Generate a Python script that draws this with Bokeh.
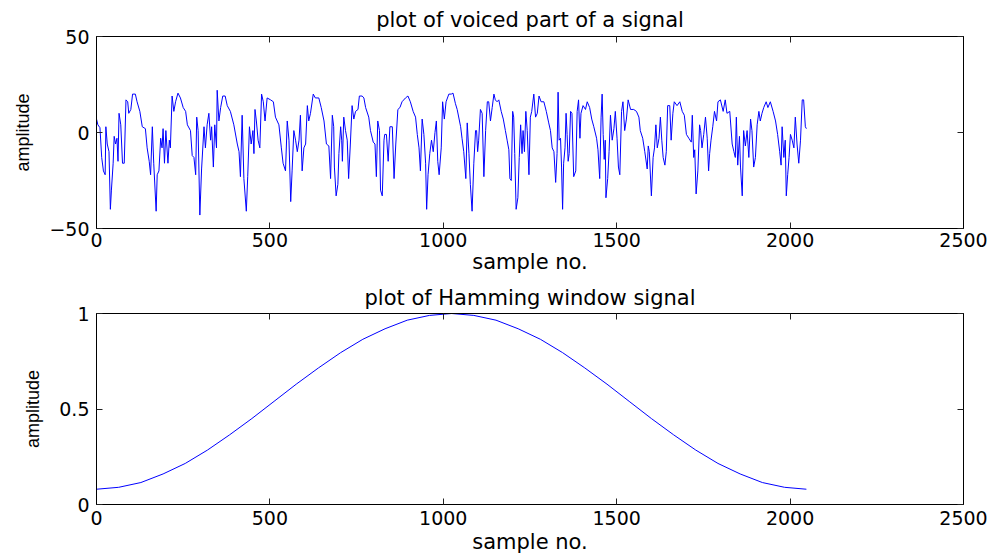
from bokeh.plotting import figure
from bokeh.layouts import column
from bokeh.models import Range1d, FixedTicker, NumeralTickFormatter, LinearAxis
from bokeh.embed import file_html
from bokeh.resources import INLINE

# ---------------- data ----------------
voiced_sample_no = [
    0, 4, 10, 15, 20, 25, 27, 31, 36, 40, 43, 48, 51, 55, 59, 62, 65, 70, 75, 80,
    85, 90, 93, 99, 104, 112, 117, 125, 132, 141, 146, 152, 156, 161, 165, 172, 175, 180, 185, 189,
    192, 196, 200, 206, 210, 213, 218, 223, 228, 235, 242, 250, 257, 262, 271, 276, 281, 286, 289, 293,
    298, 303, 310, 314, 319, 324, 329, 332, 337, 341, 346, 348, 353, 358, 364, 371, 377, 386, 396, 406,
    411, 415, 420, 425, 432, 436, 441, 446, 451, 454, 457, 461, 466, 471, 476, 481, 486, 492, 502, 510,
    516, 526, 533, 538, 545, 550, 555, 560, 564, 569, 574, 579, 584, 588, 593, 598, 603, 608, 612, 617,
    625, 631, 641, 648, 656, 663, 670, 675, 680, 684, 686, 691, 696, 699, 704, 707, 709, 713, 718, 723,
    727, 732, 737, 742, 747, 754, 758, 766, 771, 776, 785, 790, 798, 803, 807, 811, 816, 819, 824, 829,
    831, 836, 841, 846, 853, 858, 863, 869, 875, 881, 891, 898, 905, 913, 920, 925, 930, 934, 939, 944,
    949, 952, 956, 961, 966, 971, 976, 980, 984, 988, 994, 998, 1003, 1008, 1016, 1023, 1028, 1035, 1040, 1050,
    1054, 1059, 1065, 1069, 1074, 1078, 1083, 1088, 1093, 1096, 1099, 1102, 1107, 1112, 1117, 1122, 1127, 1131, 1136, 1141,
    1146, 1150, 1155, 1160, 1167, 1173, 1179, 1184, 1189, 1192, 1196, 1200, 1203, 1206, 1210, 1215, 1219, 1223, 1227, 1230,
    1234, 1238, 1242, 1247, 1251, 1255, 1261, 1266, 1271, 1276, 1282, 1290, 1297, 1304, 1309, 1314, 1319, 1324, 1328, 1331,
    1334, 1338, 1341, 1344, 1347, 1351, 1354, 1357, 1360, 1363, 1367, 1371, 1376, 1382, 1386, 1390, 1394, 1397, 1403, 1410,
    1415, 1422, 1428, 1434, 1442, 1446, 1451, 1455, 1458, 1461, 1464, 1467, 1469, 1474, 1478, 1482, 1487, 1492, 1496, 1501,
    1505, 1509, 1514, 1518, 1523, 1528, 1533, 1540, 1549, 1557, 1564, 1568, 1575, 1581, 1588, 1591, 1594, 1600, 1605, 1609,
    1613, 1617, 1622, 1626, 1630, 1634, 1639, 1643, 1647, 1653, 1657, 1662, 1666, 1674, 1682, 1689, 1695, 1701, 1708, 1715,
    1718, 1722, 1725, 1729, 1734, 1739, 1742, 1746, 1751, 1756, 1761, 1765, 1768, 1772, 1777, 1782, 1788, 1792, 1799, 1807,
    1813, 1818, 1826, 1833, 1838, 1842, 1845, 1849, 1854, 1857, 1862, 1866, 1871, 1876, 1881, 1886, 1890, 1895, 1900, 1905,
    1910, 1914, 1919, 1924, 1931, 1936, 1943, 1951, 1958, 1964, 1970, 1974, 1977, 1982, 1986, 1989, 1993, 1997, 2001, 2006,
    2011, 2015, 2020, 2025, 2030, 2035, 2039, 2044, 2047,
]
voiced_amplitude = [
    7, 4, 2.5, -13, -20, -22, 3, -6, -10, -40, -30, -16, -2, -6, -3, -15, 10, 4, -16, -16,
    17, 16, 10, 12, 20, 20, 16, 11, 3, 2, -8, -15, -22, 3, -16, -41, -22, -20, -3, -8,
    2, -16, 1, -16, -4, -8, 19, 11, 16, 20.5, 18, 13, 11, 4, 1, -12, -13, -22, 8, 1,
    -43, -19, 3, -8, 4, 10, -4, 3, -18, 4, -8, 22, 6, 13, 19, 19, 14, 11, 4, -6,
    -10, -23, 9, -24, -41, -23, 3, -6, 1, -11, 12, 6, -4, -8, 20, 16, 6, 18, 17, 16,
    8, 4, -8, -16, -20, 6, -4, -36, -20, 1, -4, -10, -4, 9, -20, -8, -6, 14, 6, 10,
    20, 18, 18, 13, 6, -6, -7, -24, 9, 3, -18, -33, -27, -11, 3, -4, -15, 8, 1, -4,
    -24, -6, 14, 7, 11, 12, 19, 19, 18, 13, 8, 1, -5, -6, -23, 6, 1, -30, -33, -4,
    -1, -1, -15, 3, 3, -24, -6, 12, 13, 16, 18, 19, 16, 11, 8, -1, -8, -20, 7, -1,
    -16, -40, -22, -11, -4, -10, 0, 6, -15, -22, -8, 16, 7, 16, 20, 20, 20.5, 15, 12, 3,
    -3, -10, -24, 5, -11, -27, -41, -16, 1, 1, -10, -4, 12, 10, -23, 1, 16, 16, 6, 13,
    20, 17, 16, 17, 11, 7, 1, -4, -9, -24, -25, 11, 8, -11, -40, -34, -13, 4, -11, 1,
    -10, 11, 1, -22, 8, 11, 20, 8, 10, 19, 16, 16, 11, 5, 1, -8, -10, -26, -11, 21,
    -4, -3, -18, -40, -16, -8, 10, -1, -15, -11, 11, 10, -23, -20, 11, 17, -3, 10, 14, 12,
    16, 13, 7, 3, -3, -9, -24, 8, 20, -1, -14, -4, -34, -24, -10, 9, -4, 2, 11, -3,
    -18, -22, 11, 16, 1, 7, 17, 12, 12, 11, 8, 1, -3, -10, -19, -7, -10, -33, -13, -8,
    4, -8, -3, 8, -4, -13, -17, -10, 14, 14, -4, 10, 16, 14, 16, 11, 9, -1, -3, -5,
    9, -13, -9, -32, -20, 4, 1, -8, -1, 8, -3, -20, -11, -4, 3, 11, 6, 16, 17, 11,
    17, 10, 11, -6, -10, -13, 8, -17, -2, -18, -33, 1, -7, 1, -13, 7, 1, -18, -13, 4,
    11, 6, 10, 13, 16, 13, 16, 11, 6, -1, -10, -17, 3, -13, -4, -33, -22, -13, -1, -4,
    -8, 8, -6, -16, -4, 17, 17, 3, 2,
]

hamming_sample_no = [
    0, 64, 128, 192, 256, 320, 384, 448, 512, 576, 640, 704, 768, 832, 896, 960, 1024,
    1088, 1152, 1216, 1280, 1344, 1408, 1472, 1536, 1600, 1664, 1728, 1792, 1856, 1920, 1984, 2047,
]
hamming_amplitude = [
    0.08, 0.09, 0.115, 0.16, 0.215, 0.285, 0.365, 0.45, 0.54, 0.63, 0.715, 0.795, 0.865, 0.92, 0.965, 0.99, 1.0,
    0.99, 0.965, 0.92, 0.865, 0.795, 0.715, 0.63, 0.54, 0.45, 0.365, 0.285, 0.215, 0.16, 0.115, 0.09, 0.08,
]

x_ticks = [0, 500, 1000, 1500, 2000, 2500]
voiced_y_ticks = [-50, 0, 50]
hamming_y_ticks = [0, 0.5, 1]

titles = ["plot of voiced part of a signal", "plot of Hamming window signal"]
x_label = "sample no."
y_label = "amplitude"

TICK_FONT = "DejaVu Sans"
TEXT_FONT = "DejaVu Sans"
TICK_COLOR = "#222222"
TICK_LEN = 6


def style_axis(ax, show_labels=True):
    ax.major_tick_in = TICK_LEN
    ax.major_tick_out = 0
    ax.minor_tick_line_color = None
    ax.major_tick_line_color = TICK_COLOR
    ax.axis_line_color = "black"
    ax.axis_line_width = 1
    if show_labels:
        ax.major_label_text_font = TICK_FONT
        ax.major_label_text_font_size = "19px"
        ax.major_label_text_color = "black"
    else:
        ax.major_label_text_font_size = "0px"
        ax.major_label_standoff = 0


def make_fig(height, top, bottom, yr, yticks, title, title_standoff,
             tick_standoff, label_standoff, fmt=None):
    xr = Range1d(0, 2500)
    p = figure(width=995, height=height, x_range=xr, y_range=Range1d(*yr),
               output_backend="svg", toolbar_location=None,
               min_border_left=96, min_border_right=32,
               min_border_top=top, min_border_bottom=bottom, title=title)
    p.background_fill_color = "white"
    p.border_fill_color = "white"
    p.outline_line_color = "black"
    p.outline_line_width = 1
    p.grid.visible = False

    p.title.text_font = TEXT_FONT
    p.title.text_font_size = "21px"
    p.title.text_font_style = "normal"
    p.title.text_color = "black"
    p.title.align = "center"
    p.title.standoff = title_standoff
    p.title.offset = -8

    xa = p.xaxis[0]
    xa.ticker = FixedTicker(ticks=x_ticks)
    style_axis(xa)
    xa.major_label_standoff = tick_standoff
    xa.axis_label = x_label
    xa.axis_label_text_font = TEXT_FONT
    xa.axis_label_text_font_size = "21px"
    xa.axis_label_text_font_style = "normal"
    xa.axis_label_text_color = "black"
    xa.axis_label_standoff = label_standoff

    ya = p.yaxis[0]
    ya.ticker = FixedTicker(ticks=yticks)
    if fmt is not None:
        ya.formatter = fmt
    style_axis(ya)
    ya.major_label_standoff = 7
    ya.axis_label = y_label
    ya.axis_label_text_font = "Liberation Sans"
    ya.axis_label_text_font_size = "18px"
    ya.axis_label_text_font_style = "normal"
    ya.axis_label_text_color = "black"
    ya.axis_label_standoff = 13

    # tick marks on the top and right edges of the box (MATLAB "box on")
    top_ax = LinearAxis(ticker=FixedTicker(ticks=x_ticks))
    style_axis(top_ax, False)
    p.add_layout(top_ax, "above")
    right_ax = LinearAxis(ticker=FixedTicker(ticks=yticks))
    style_axis(right_ax, False)
    p.add_layout(right_ax, "right")
    return p


p1 = make_fig(280, 36, 52, (-50, 50), voiced_y_ticks, titles[0], 10, 4, 0)
p1.line(voiced_sample_no, voiced_amplitude, line_color="blue", line_width=1)

p2 = make_fig(279, 33, 55, (0, 1), hamming_y_ticks, titles[1], 7, 6, 2,
              NumeralTickFormatter(format="0.[0]"))
p2.line(hamming_sample_no, hamming_amplitude, line_color="blue", line_width=1)

layout = column(p1, p2, spacing=0)
open("out.html", "w").write(file_html(layout, INLINE))
